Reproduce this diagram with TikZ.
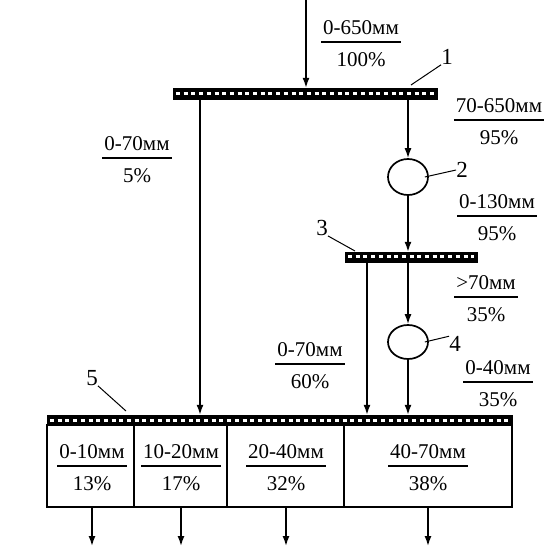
\documentclass[tikz,border=0pt]{standalone}
\usepackage{fontspec}
\setmainfont{Liberation Serif}
\usetikzlibrary{arrows.meta, shapes.geometric}

\tikzset{
  sieve/.style={draw, fill=black, inner sep=0pt, minimum height=11pt,
    path picture={\draw[white, line width=3pt, dash pattern=on 4pt off 3.7pt]
      ([xshift=3pt]path picture bounding box.west) -- ([xshift=-3pt]path picture bounding box.east);}},
  mill/.style={ellipse, draw, line width=1.7pt, minimum width=40pt, minimum height=36pt, inner sep=0pt},
  flow/.style={font=\fontsize{21}{23}\selectfont, inner sep=0pt},
  tag/.style={font=\fontsize{23}{25}\selectfont, inner sep=0pt},
  feed/.style={line width=1.5pt, -{Latex[length=10pt,width=7pt]}},
  lead/.style={line width=1pt},
}
\newcommand{\frc}[2]{\setlength{\tabcolsep}{2pt}\setlength{\arrayrulewidth}{1.6pt}%
  \begin{tabular}{c}#1\\\hline\rule{0pt}{24pt}#2\end{tabular}}

\begin{document}
\begin{tikzpicture}[x=1pt, y=-1pt]
  \useasboundingbox (0,0) rectangle (549,548);

  % screens
  \node[sieve, minimum width=264pt] (s1) at (305,93.5) {};
  \node[sieve, minimum width=132pt, minimum height=10pt] (s3) at (411,257) {};
  \node[sieve, minimum width=465pt, minimum height=10pt] (s5) at (279.5,420) {};

  % crushers
  \node[mill] (m2) at (408,177) {};
  \node[mill, minimum height=34pt] (m4) at (408,342) {};

  % bins
  \node[draw, line width=1.8pt, minimum width=465pt, minimum height=82pt, inner sep=0pt] (box) at (279.5,466) {};
  \foreach \x in {134,227,344}{
    \draw[line width=1.8pt] (box.north -| \x,0) -- (box.south -| \x,0);
  }

  % flows
  \coordinate (in) at (306,0);
  \draw[feed] (in) -- (s1.north -| in);
  \draw[feed] (s1.south -| 200,0) -- (s5.north -| 200,0);
  \draw[feed] (s1.south -| m2) -- (m2.north);
  \draw[feed] (m2.south) -- (s3.north -| m2);
  \draw[feed] (s3.south -| 367,0) -- (s5.north -| 367,0);
  \draw[feed] (s3.south -| m4) -- (m4.north);
  \draw[feed] (m4.south) -- (s5.north -| m4);

  % flow labels
  \node[flow] (f0) at (361,46) {\frc{0-650мм}{100\%}};
  \node[flow] (f1) at (137,162) {\frc{0-70мм}{5\%}};
  \node[flow] (f2) at (499,124) {\frc{70-650мм}{95\%}};
  \node[flow] (f3) at (497,220) {\frc{0-130мм}{95\%}};
  \node[flow] (f4) at (486,301) {\frc{>70мм}{35\%}};
  \node[flow] (f5) at (310,368) {\frc{0-70мм}{60\%}};
  \node[flow] (f6) at (498,386) {\frc{0-40мм}{35\%}};

  % products
  \node[flow] (c1) at (92,470) {\frc{0-10мм}{13\%}};
  \node[flow] (c2) at (181,470) {\frc{10-20мм}{17\%}};
  \node[flow] (c3) at (286,470) {\frc{20-40мм}{32\%}};
  \node[flow] (c4) at (428,470) {\frc{40-70мм}{38\%}};
  \foreach \c in {c1,c2,c3,c4}{
    \draw[feed] (\c |- box.south) -- (\c |- 0,546);
  }

  % numbers
  \node[tag] (n1) at (447,57) {1};
  \draw[lead] (411,85) -- (n1.south west);
  \node[tag] (n2) at (462,170) {2};
  \draw[lead] ([xshift=-4pt]m2.east) -- (n2.west);
  \node[tag] (n3) at (322,228) {3};
  \draw[lead] (n3.south east) -- (355,251);
  \node[tag] (n4) at (455,344) {4};
  \draw[lead] ([xshift=-4pt]m4.east) -- (n4.north west);
  \node[tag] (n5) at (92,378) {5};
  \draw[lead] (n5.south east) -- (126,411);
\end{tikzpicture}
\end{document}
